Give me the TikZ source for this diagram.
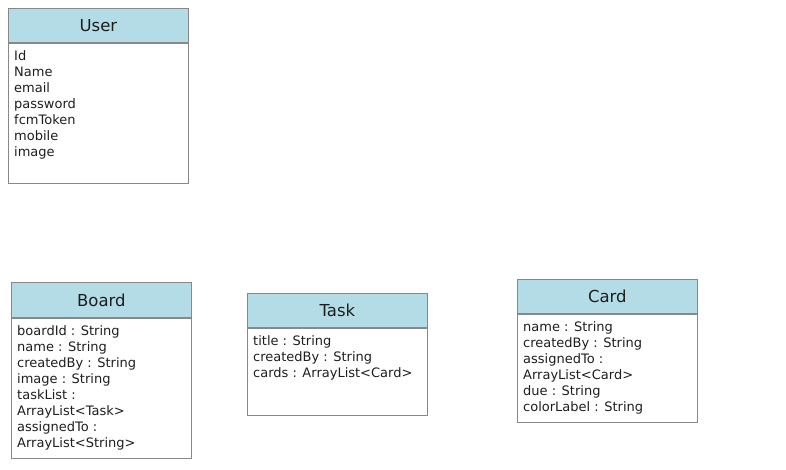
\documentclass[tikz,border=0pt]{standalone}
\usepackage{fontspec}
\setmainfont{DejaVu Sans}
\usetikzlibrary{positioning}

\definecolor{headblue}{RGB}{180,220,230}
\definecolor{linegray}{RGB}{136,136,136}
\definecolor{textgray}{RGB}{30,30,30}

\tikzset{
  classhead/.style={draw=linegray, fill=headblue, line width=0.8pt, minimum width=180pt,
    minimum height=34pt, inner sep=0pt, anchor=north west, text=textgray,
    font=\fontsize{16.5}{19}\selectfont},
  classbody/.style={draw=linegray, line width=0.8pt, minimum width=180pt, inner sep=0pt, anchor=north},
  attrs/.style={anchor=north west, align=left, inner sep=0pt, text=textgray,
    font=\fontsize{13}{16}\selectfont}
}

\begin{document}
\begin{tikzpicture}[x=1pt,y=-1pt]
    \useasboundingbox (0,0) rectangle (786,469);

    % draw class User
    \node[classhead] (user) at (8,8) {User};
    \node[classbody, minimum height=140pt] (user-body) at (user.south) {};
    \node[attrs] (user-attrs) at ([xshift=6pt,yshift=-8pt]user-body.north west)
      {Id\\Name\\email\\password\\fcmToken\\mobile\\image};

    % draw class Board
    \node[classhead, minimum height=35pt] (board) at (11,282) {Board};
    \node[classbody, minimum height=140pt] (board-body) at (board.south) {};
    \node[attrs] (board-attrs) at ([xshift=6pt,yshift=-8pt]board-body.north west)
      {boardId : String\\name : String\\createdBy : String\\image : String\\taskList :\\
       ArrayList<Task>\\assignedTo :\\ArrayList<String>};

    % draw class Task
    \node[classhead] (task) at (247,293) {Task};
    \node[classbody, minimum height=87pt] (task-body) at (task.south) {};
    \node[attrs] (task-attrs) at ([xshift=6pt,yshift=-8pt]task-body.north west)
      {title : String\\createdBy : String\\cards : ArrayList<Card>};

    % draw class Card
    \node[classhead] (card) at (517,279) {Card};
    \node[classbody, minimum height=108pt] (card-body) at (card.south) {};
    \node[attrs] (card-attrs) at ([xshift=6pt,yshift=-8pt]card-body.north west)
      {name : String\\createdBy : String\\assignedTo :\\ArrayList<Card>\\due : String\\
       colorLabel : String};
\end{tikzpicture}
\end{document}
